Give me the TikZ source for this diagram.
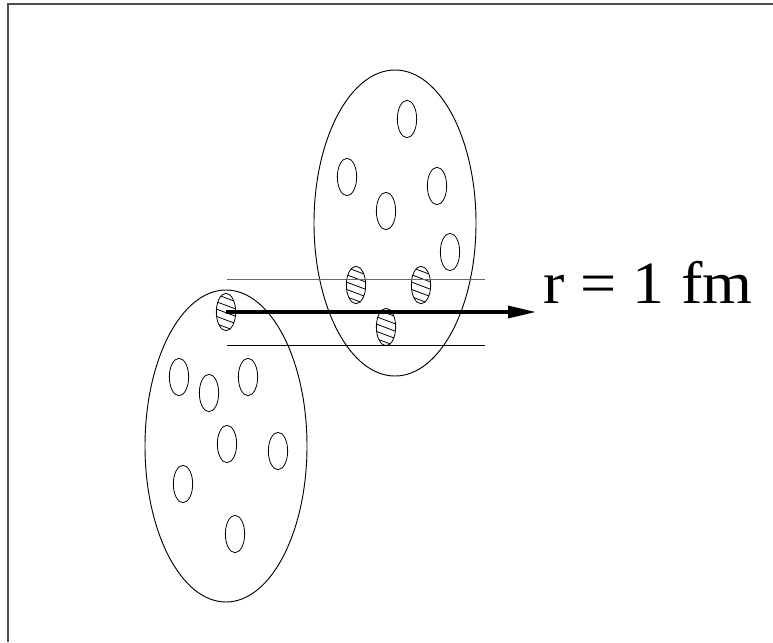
\documentclass[tikz,border=0pt]{standalone}
\usepackage{fontspec}
\setmainfont{Liberation Serif}
\usetikzlibrary{shapes.geometric,arrows.meta,positioning}

\begin{document}
\begin{tikzpicture}[
  x=0.75pt, y=-0.75pt,
  nucleus/.style={
    ellipse, draw=black, line width=0.7pt, inner sep=0pt,
    minimum width=121.5pt, minimum height=234pt
  },
  nucleon/.style={
    ellipse, draw=black, line width=0.6pt, inner sep=0pt,
    minimum width=14.5pt, minimum height=28pt
  },
  hatched/.style={
    nucleon,
    path picture={
      \foreach \k in {-5,...,5}
        \draw[line width=0.6pt] ([shift={(-12pt,\k*5.5pt+4pt)}]path picture bounding box.center) -- ++(24pt,-9pt);
    }
  },
  guide/.style={line width=0.7pt},
  arr/.style={-{Triangle[length=21pt,width=9pt]}, line width=2.5pt, black},
  lbl/.style={font=\fontsize{45}{50}\selectfont, inner sep=0pt}
]
\useasboundingbox (0,0) rectangle (773,642);

% ---- Frame ----
\draw[line width=1pt, black!70] (8,642) -- (8,4) -- (773,4);

% ---- Nuclei ----
\node[nucleus] (nucA) at (226,446) {};
\node[nucleus, minimum height=229.5pt] (nucB) at (395,223) {};

% ---- Nucleons of the lower nucleus ----
\node[hatched] (a0) at (226,312) {};
\node[nucleon] (a1) at (179,377) {};
\node[nucleon] (a2) at (209,393) {};
\node[nucleon] (a3) at (248,377) {};
\node[nucleon] (a4) at (227,444) {};
\node[nucleon] (a5) at (278,451) {};
\node[nucleon] (a6) at (183,484) {};
\node[nucleon] (a7) at (235,534) {};

% ---- Nucleons of the upper nucleus ----
\node[nucleon] (b1) at (407,119) {};
\node[nucleon] (b2) at (347,177) {};
\node[nucleon] (b3) at (437,186) {};
\node[nucleon] (b4) at (386,211) {};
\node[nucleon] (b5) at (450,252) {};
\node[hatched] (b6) at (356,285) {};
\node[hatched] (b7) at (421,285) {};
\node[hatched] (b8) at (386,327) {};

% ---- Tube and arrow ----
\coordinate (tubeTL) at (227,279);
\coordinate (tubeTR) at (485,279);
\coordinate (tubeBL) at (227,345);
\coordinate (tubeBR) at (485,345);
\coordinate (tip)    at (536,312);

\draw[guide, black!60] (tubeTL) -- (tubeTR);
\draw[guide] (tubeBL) -- (tubeBR);
\draw[arr] (a0.center) -- (tip);

\node[lbl, anchor=base west, xscale=1.07, transform shape] (range) at (543,303) {r = 1 fm};

\end{tikzpicture}
\end{document}
